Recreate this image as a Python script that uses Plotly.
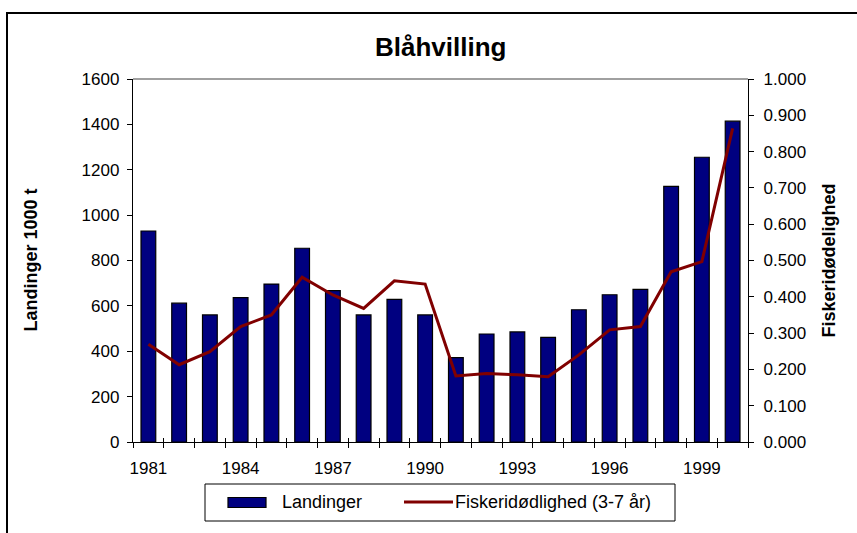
import plotly.graph_objects as go

# Blue whiting: landings (1000 t) and fishing mortality (ages 3-7)
years = list(range(1981, 2001))
landinger = [930, 612, 560, 636, 696, 854, 667, 560, 629, 560,
             372, 476, 485, 461, 583, 649, 673, 1127, 1255, 1414]
fiskeridodelighed = [0.269, 0.213, 0.249, 0.318, 0.350, 0.454, 0.405, 0.368, 0.444, 0.435,
                     0.182, 0.189, 0.185, 0.180, 0.240, 0.309, 0.318, 0.469, 0.497, 0.864]
year_labels = [1981, 1984, 1987, 1990, 1993, 1996, 1999]

FONT = "Liberation Sans, Arial, sans-serif"
BAR_COLOR = "#000080"
LINE_COLOR = "#800000"

W, H = 857, 533
ML, MR, MT, MB = 133, 109, 79, 91
PW, PH = W - ML - MR, H - MT - MB


def px(x):
    """Horizontal pixel -> paper fraction."""
    return (x - ML) / PW


def py(y):
    """Vertical pixel (from top) -> paper fraction."""
    return (H - MB - y) / PH


x_range = [years[0] - 0.5, years[-1] + 0.5]
boundaries = [y - 0.5 for y in years] + [years[-1] + 0.5]

fig = go.Figure()
fig.add_trace(go.Bar(
    x=years, y=landinger, name="Landinger",
    width=0.48, marker=dict(color=BAR_COLOR, line=dict(color="black", width=1.2)),
    xaxis="x", yaxis="y", showlegend=False,
))
fig.add_trace(go.Scatter(
    x=years, y=fiskeridodelighed, name="Fiskeridødlighed (3-7 år)",
    mode="lines", line=dict(color=LINE_COLOR, width=3),
    xaxis="x2", yaxis="y2", showlegend=False,
))

tick_font = dict(family=FONT, size=17, color="black")

fig.update_layout(
    width=W, height=H,
    margin=dict(l=ML, r=MR, t=MT, b=MB),
    paper_bgcolor="white", plot_bgcolor="white",
    font=dict(family=FONT, color="black"),
    showlegend=False,
    xaxis=dict(
        range=x_range, tickmode="array", tickvals=year_labels,
        ticks="outside", ticklen=10, tickcolor="rgba(0,0,0,0)",
        tickfont=tick_font, showgrid=False, zeroline=False,
        showline=True, linecolor="black", linewidth=1.3,
        minor=dict(tickmode="array", tickvals=boundaries, ticks="outside",
                   ticklen=5, tickcolor="black", tickwidth=1, showgrid=False),
    ),
    xaxis2=dict(
        range=x_range, overlaying="x", anchor="y2", side="bottom",
        tickmode="array", tickvals=boundaries, ticks="inside", ticklen=4,
        tickcolor="black", showticklabels=False, showgrid=False,
        zeroline=False, showline=False,
    ),
    yaxis=dict(
        range=[0, 1600], dtick=200, tick0=0,
        ticks="outside", ticklen=5, tickcolor="black", ticklabelstandoff=4,
        tickfont=tick_font, showgrid=False, zeroline=False,
        showline=True, linecolor="black", linewidth=1.3,
    ),
    yaxis2=dict(
        range=[0, 1], dtick=0.1, tick0=0, tickformat=".3f",
        overlaying="y", side="right", anchor="x",
        ticks="outside", ticklen=5, tickcolor="black", ticklabelstandoff=6,
        tickfont=tick_font, showgrid=False, zeroline=False,
        showline=True, linecolor="black", linewidth=1.3,
    ),
    yaxis3=dict(
        range=[0, 1600], dtick=200, tick0=0, overlaying="y", side="left", anchor="x",
        ticks="inside", ticklen=4, tickcolor="black", showticklabels=False,
        showgrid=False, zeroline=False, showline=False,
    ),
    yaxis4=dict(
        range=[0, 1], dtick=0.1, tick0=0, overlaying="y", side="right", anchor="x",
        ticks="inside", ticklen=4, tickcolor="black", showticklabels=False,
        showgrid=False, zeroline=False, showline=False,
    ),
)

# Plot-area top border and outer chart frame
fig.add_shape(type="line", xref="paper", yref="paper", x0=0, x1=1, y0=1, y1=1,
              line=dict(color="#808080", width=1.5))
fig.add_shape(type="rect", xref="paper", yref="paper",
              x0=px(7), x1=px(W + 40), y0=py(H + 40), y1=py(13),
              line=dict(color="black", width=2), layer="below")

# Title and axis titles
fig.add_annotation(text="<b>Blåhvilling</b>", xref="paper", yref="paper",
                   x=px(440), y=py(47), xanchor="center", yanchor="middle",
                   showarrow=False, font=dict(family=FONT, size=26, color="black"))
fig.add_annotation(text="<b>Landinger 1000 t</b>", xref="paper", yref="paper",
                   x=px(30), y=0.5, xanchor="center", yanchor="middle",
                   textangle=-90, showarrow=False,
                   font=dict(family=FONT, size=18, color="black"))
fig.add_annotation(text="<b>Fiskeridødelighed</b>", xref="paper", yref="paper",
                   x=px(828), y=0.5, xanchor="center", yanchor="middle",
                   textangle=-90, showarrow=False,
                   font=dict(family=FONT, size=18, color="black"))

# Legend box with bar and line keys
legend_font = dict(family=FONT, size=18, color="black")
fig.add_shape(type="rect", xref="paper", yref="paper",
              x0=px(205), x1=px(675), y0=py(521), y1=py(484),
              line=dict(color="black", width=1), fillcolor="white")
fig.add_shape(type="rect", xref="paper", yref="paper",
              x0=px(228), x1=px(266), y0=py(507.5), y1=py(497.5),
              line=dict(color="black", width=1.2), fillcolor=BAR_COLOR)
fig.add_annotation(text="Landinger", xref="paper", yref="paper",
                   x=px(280), y=py(502), xanchor="left", yanchor="middle",
                   showarrow=False, font=legend_font)
fig.add_shape(type="line", xref="paper", yref="paper",
              x0=px(404), x1=px(453), y0=py(502), y1=py(502),
              line=dict(color=LINE_COLOR, width=3))
fig.add_annotation(text="Fiskeridødlighed (3-7 år)", xref="paper", yref="paper",
                   x=px(453), y=py(502), xanchor="left", yanchor="middle",
                   showarrow=False, font=legend_font)

fig.write_html("out.html")
